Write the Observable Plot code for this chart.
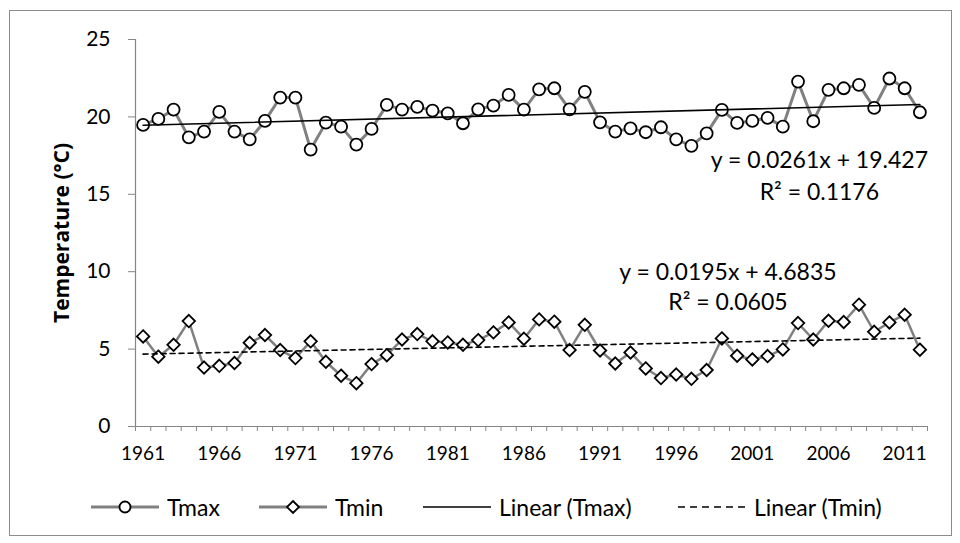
<!DOCTYPE html>
<html>
<head>
<meta charset="utf-8">
<script src="https://cdn.jsdelivr.net/npm/d3@7"></script>
<script src="https://cdn.jsdelivr.net/npm/@observablehq/plot@0.6"></script>
<style>
  html, body { margin: 0; padding: 0; background: #fff; }
  #wrap { position: relative; width: 960px; height: 543px; font-family: Lato, "Open Sans", sans-serif; }
  #frame { position: absolute; left: 9px; top: 10px; width: 941px; height: 524px; border: 1px solid #8c8c8c; }
  #chart { position: absolute; left: 0; top: 0; }
  .lg { position: absolute; top: 493px; height: 28px; display: flex; align-items: center; font-size: 23px; color: #000; white-space: nowrap; }
  .lg svg { display: block; }
</style>
</head>
<body>
<div id="wrap">
  <div id="frame"></div>
  <div id="chart"></div>
</div>
<script>
// ---- data ----
const firstYear = 1961;
const tmax = [19.48,19.87,20.47,18.68,19.05,20.32,19.05,18.55,19.74,21.25,21.25,17.89,19.63,19.37,18.21,
  19.22,20.78,20.47,20.65,20.41,20.23,19.59,20.49,20.73,21.42,20.47,21.78,21.85,20.49,21.62,19.65,19.05,19.26,
  19.01,19.33,18.55,18.13,18.94,20.45,19.61,19.74,19.94,19.37,22.28,19.72,21.75,21.85,22.07,20.58,22.48,21.85,20.30];
const tmin = [5.82,4.51,5.28,6.81,3.81,3.92,4.10,5.41,5.91,4.94,4.42,5.50,4.18,3.28,2.80,
  4.03,4.61,5.62,5.97,5.50,5.43,5.28,5.58,6.08,6.72,5.67,6.92,6.77,4.94,6.57,4.91,4.07,4.78,
  3.75,3.13,3.36,3.08,3.65,5.69,4.57,4.33,4.55,4.98,6.68,5.62,6.83,6.75,7.87,6.12,6.72,7.22,4.96];
const years = tmax.map((_, i) => firstYear + i);
const xTickLabels = [1961,1966,1971,1976,1981,1986,1991,1996,2001,2006,2011];
const yTicks = [0,5,10,15,20,25];
const eqText = ["y = 0.0261x + 19.427", "R\u00B2 = 0.1176", "y = 0.0195x + 4.6835", "R\u00B2 = 0.0605"];
const eqX = [2005.4, 2005.4, 1999.4, 1999.4];
const eqY = [17.17, 15.1, 9.94, 8.0];
const yTitle = "Temperature (\u00B0C)";
const seriesNames = ["Tmax", "Tmin", "Linear (Tmax)", "Linear (Tmin)"];

// ---- tables ----
const rows = years.map((year, i) => ({year, tmax: tmax[i], tmin: tmin[i]}));
const eqRows = eqText.map((text, i) => ({text, x: eqX[i], y: eqY[i]}));
const xDomain = [years[0] - 0.5, years[years.length - 1] + 0.5];
const catEdges = d3.range(xDomain[0], xDomain[1] + 0.01, 1);

const axisGray = "#868686";
const lineGray = "#808080";

const chart = Plot.plot({
  width: 960,
  height: 465,
  marginTop: 39,
  marginBottom: 39,
  marginLeft: 135,
  marginRight: 33,
  x: {domain: xDomain},
  y: {domain: [0, 25]},
  style: {fontFamily: "Lato, 'Open Sans', sans-serif", background: "transparent", color: "#000"},
  marks: [
    Plot.axisY(yTicks, {tickSize: 7, tickPadding: 18, fontSize: 21, stroke: axisGray, fill: "#000", label: null, tickFormat: d3.format("d")}),
    Plot.axisX(catEdges, {tickSize: 5, stroke: axisGray, tickFormat: () => "", label: null}),
    Plot.axisX(xTickLabels, {tickSize: 0, tickPadding: 20, fontSize: 19, fill: "#000", tickFormat: d3.format("d"), label: null}),
    Plot.ruleY([0], {stroke: axisGray, strokeWidth: 1.2}),
    Plot.ruleX([xDomain[0]], {stroke: axisGray, strokeWidth: 1.2}),
    Plot.text([yTitle], {frameAnchor: "left", dx: -73, rotate: -90, text: d => d, fontSize: 21, fontWeight: "bold", fontFamily: "'Open Sans', sans-serif", textAnchor: "middle", lineAnchor: "middle"}),
    Plot.line(rows, {x: "year", y: "tmax", stroke: lineGray, strokeWidth: 3}),
    Plot.line(rows, {x: "year", y: "tmin", stroke: lineGray, strokeWidth: 2.5}),
    Plot.dot(rows, {x: "year", y: "tmax", r: 6, fill: "white", stroke: "black", strokeWidth: 1.8}),
    Plot.dot(rows, {x: "year", y: "tmin", r: 5.6, symbol: "diamond2", fill: "white", stroke: "black", strokeWidth: 1.8}),
    Plot.linearRegressionY(rows, {x: "year", y: "tmax", ci: 0, stroke: "black", strokeWidth: 1.6}),
    Plot.linearRegressionY(rows, {x: "year", y: "tmin", ci: 0, stroke: "black", strokeWidth: 1.6, strokeDasharray: "5,4"}),
    Plot.text(eqRows, {x: "x", y: "y", text: "text", fontSize: 23, textAnchor: "middle", lineAnchor: "middle", fill: "#000"})
  ]
});
document.getElementById("chart").appendChild(chart);

// ---- legend ----
const wrap = document.getElementById("wrap");
const legendLeft = [91, 259, 423, 678];
function swatch(kind) {
  const ns = "http://www.w3.org/2000/svg";
  const s = document.createElementNS(ns, "svg");
  s.setAttribute("width", 68); s.setAttribute("height", 20);
  const l = document.createElementNS(ns, "line");
  l.setAttribute("x1", 0); l.setAttribute("x2", 68); l.setAttribute("y1", 10); l.setAttribute("y2", 10);
  if (kind === 0 || kind === 1) { l.setAttribute("stroke", lineGray); l.setAttribute("stroke-width", 3); }
  else { l.setAttribute("stroke", "black"); l.setAttribute("stroke-width", 1.6); }
  if (kind === 3) l.setAttribute("stroke-dasharray", "7,5");
  s.appendChild(l);
  if (kind === 0) {
    const c = document.createElementNS(ns, "circle");
    c.setAttribute("cx", 34); c.setAttribute("cy", 10); c.setAttribute("r", 5.5);
    c.setAttribute("fill", "white"); c.setAttribute("stroke", "black"); c.setAttribute("stroke-width", 1.8);
    s.appendChild(c);
  } else if (kind === 1) {
    const p = document.createElementNS(ns, "path");
    p.setAttribute("d", "M34,4L40,10L34,16L28,10Z");
    p.setAttribute("fill", "white"); p.setAttribute("stroke", "black"); p.setAttribute("stroke-width", 1.8);
    s.appendChild(p);
  }
  return s;
}
seriesNames.forEach((name, i) => {
  const d = document.createElement("div");
  d.className = "lg";
  d.style.left = legendLeft[i] + "px";
  d.appendChild(swatch(i));
  const t = document.createElement("span");
  t.textContent = name;
  t.style.marginLeft = "8px";
  d.appendChild(t);
  wrap.appendChild(d);
});
</script>
</body>
</html>
